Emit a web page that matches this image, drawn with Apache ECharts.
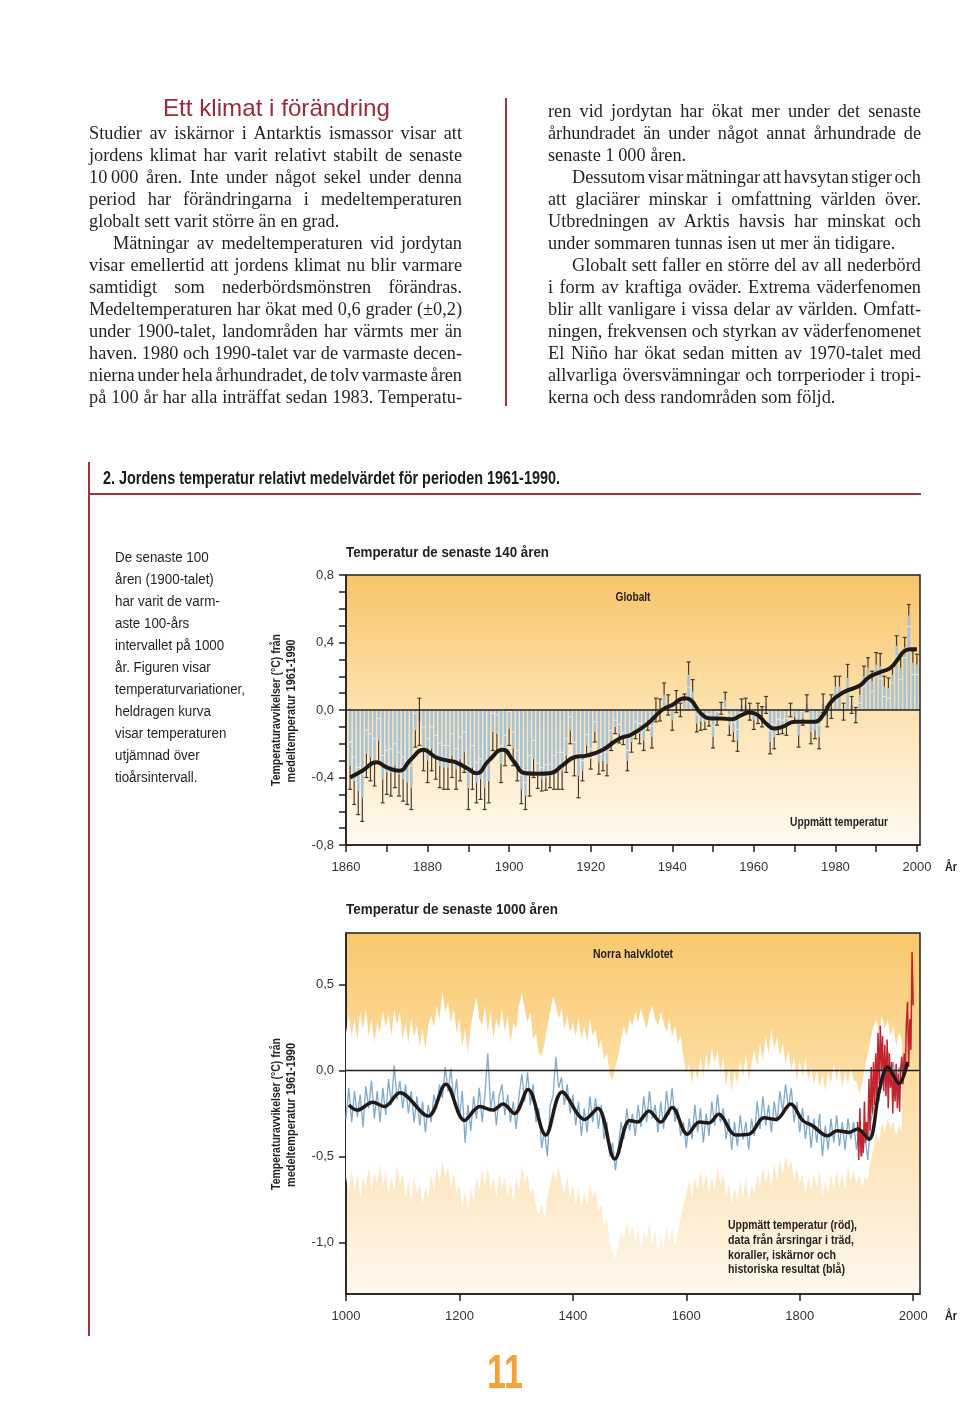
<!DOCTYPE html>
<html><head><meta charset="utf-8">
<script src="https://cdn.jsdelivr.net/npm/echarts@6/dist/echarts.min.js"></script>
<style>
html,body{margin:0;padding:0;background:#fff;}
#page{position:relative;width:960px;height:1426px;overflow:hidden;background:#fff;}
#chart{position:absolute;left:0;top:0;width:960px;height:1426px;}
.txt{position:absolute;white-space:nowrap;z-index:2;}
.rule{position:absolute;background:#a3323d;z-index:2;}
</style></head>
<body><div id="page"><div id="chart"></div></div>
<script>
// ---------------- DATA ----------------
// Chart 1: global annual anomalies 1861-2000 (°C), error half-widths
const years1Start = 1861;
const vals1 = [
 -0.33,-0.42,-0.48,-0.52,-0.26,-0.28,-0.31,-0.18,-0.41,-0.37,
 -0.37,-0.33,-0.38,-0.41,-0.43,-0.46,-0.12,-0.07,-0.23,-0.30,
 -0.23,-0.28,-0.33,-0.34,-0.34,-0.27,-0.35,-0.29,-0.25,-0.46,
 -0.34,-0.43,-0.41,-0.46,-0.42,-0.13,-0.14,-0.32,-0.24,-0.11,
 -0.23,-0.33,-0.47,-0.51,-0.39,-0.29,-0.39,-0.41,-0.40,-0.39,
 -0.37,-0.36,-0.36,-0.27,-0.12,-0.29,-0.39,-0.36,-0.21,-0.29,
 -0.13,-0.31,-0.30,-0.32,-0.18,-0.10,-0.14,-0.17,-0.30,-0.19,
 -0.12,-0.14,-0.18,-0.06,-0.16,0.00,0.00,0.09,0.03,-0.06,
 0.05,0.00,0.05,0.21,0.11,-0.08,-0.07,-0.07,-0.06,-0.16,
 -0.05,0.01,0.06,-0.09,-0.13,-0.18,0.03,0.03,-0.01,-0.06,
 -0.02,-0.04,0.03,-0.19,-0.16,-0.10,-0.10,-0.10,0.00,-0.04,
 -0.15,-0.05,0.04,-0.13,-0.12,-0.16,0.04,-0.04,0.02,0.14,
 0.14,-0.01,0.19,0.03,-0.03,0.09,0.20,0.25,0.17,0.27,
 0.26,0.14,0.13,0.21,0.38,0.25,0.37,0.56,0.28,0.27
];
const errs1 = [
 0.14,0.14,0.14,0.14,0.14,0.14,0.14,0.13,0.14,0.13,
 0.14,0.13,0.13,0.13,0.13,0.13,0.10,0.14,0.13,0.13,
 0.13,0.13,0.13,0.13,0.13,0.13,0.12,0.13,0.12,0.13,
 0.13,0.12,0.12,0.13,0.13,0.11,0.11,0.11,0.09,0.10,
 0.10,0.09,0.085,0.08,0.12,0.11,0.075,0.07,0.075,0.07,
 0.10,0.11,0.11,0.10,0.08,0.10,0.13,0.06,0.065,0.06,
 0.06,0.07,0.06,0.07,0.06,0.04,0.055,0.035,0.06,0.06,
 0.05,0.06,0.06,0.06,0.065,0.07,0.065,0.07,0.06,0.06,
 0.065,0.04,0.045,0.075,0.07,0.05,0.05,0.045,0.035,0.065,
 0.04,0.035,0.045,0.06,0.055,0.065,0.035,0.04,0.05,0.055,
 0.06,0.06,0.05,0.07,0.07,0.045,0.04,0.05,0.04,0.035,
 0.07,0.04,0.05,0.07,0.05,0.07,0.055,0.06,0.07,0.06,
 0.06,0.05,0.08,0.05,0.045,0.05,0.06,0.06,0.06,0.07,
 0.075,0.06,0.06,0.05,0.06,0.07,0.06,0.065,0.07,0.06
];
// smoothed (ten-year) curve, chart 1
const smooth1Years = [1861,1864,1867.5,1870,1873,1876,1879,1882,1885,1887,1890,1892,1895,1898.5,1901,1904,1907,1910,1913,1916,1919,1923,1927,1930,1934,1937.5,1940,1943,1944.5,1947,1949.5,1952,1954.5,1957,1959,1961,1963,1965,1967,1970,1972,1975,1977,1979,1982,1986,1988,1990.5,1993.5,1995,1997,1998.5,2000];
const smooth1Vals  = [-0.40,-0.36,-0.31,-0.34,-0.36,-0.29,-0.235,-0.28,-0.30,-0.31,-0.35,-0.375,-0.30,-0.235,-0.30,-0.375,-0.378,-0.375,-0.33,-0.28,-0.27,-0.235,-0.17,-0.145,-0.08,0.0,0.03,0.07,0.06,-0.02,-0.05,-0.05,-0.055,-0.03,-0.015,-0.03,-0.08,-0.11,-0.10,-0.07,-0.07,-0.07,-0.03,0.05,0.105,0.145,0.19,0.22,0.25,0.29,0.35,0.36,0.36];

// Chart 2: Northern Hemisphere, 1000-1980 in 5-year steps
const recStart = 1000, recStep = 5;
const blueVals = [
 -0.28,-0.10,-0.30,-0.12,-0.27,-0.14,-0.33,-0.09,-0.22,-0.06,
 -0.28,-0.12,-0.30,-0.10,-0.26,-0.05,-0.20,0.03,-0.17,-0.06,
 -0.22,-0.08,-0.25,-0.12,-0.30,-0.15,-0.32,-0.18,-0.36,-0.20,
 -0.30,-0.14,-0.22,-0.08,-0.16,0.02,-0.12,0.01,-0.18,-0.05,
 -0.28,-0.12,-0.42,-0.20,-0.35,-0.15,-0.28,-0.10,-0.30,-0.14,
 0.10,-0.22,-0.12,-0.32,-0.15,-0.08,-0.26,-0.14,-0.30,-0.18,
 -0.34,-0.15,-0.02,-0.18,-0.01,-0.20,-0.08,-0.30,-0.22,-0.45,
 -0.35,-0.50,-0.20,-0.15,0.08,-0.10,-0.04,-0.20,-0.08,-0.25,
 -0.14,-0.32,-0.18,-0.38,-0.22,-0.36,-0.15,-0.30,-0.16,-0.34,
 -0.20,-0.40,-0.30,-0.50,-0.42,-0.58,-0.45,-0.30,-0.40,-0.22,
 -0.35,-0.25,-0.38,-0.20,-0.33,-0.15,-0.30,-0.12,-0.28,-0.20,
 -0.36,-0.18,-0.34,-0.12,-0.26,-0.10,-0.30,-0.22,-0.38,-0.30,
 -0.45,-0.28,-0.40,-0.20,-0.36,-0.22,-0.42,-0.25,-0.38,-0.18,
 -0.32,-0.14,-0.30,-0.22,-0.40,-0.28,-0.46,-0.30,-0.44,-0.26,
 -0.40,-0.30,-0.46,-0.28,-0.38,-0.18,-0.34,-0.15,-0.32,-0.20,
 -0.36,-0.18,-0.30,-0.12,-0.24,-0.08,-0.22,-0.10,-0.30,-0.18,
 -0.36,-0.22,-0.40,-0.26,-0.45,-0.28,-0.42,-0.25,-0.50,-0.32,
 -0.46,-0.28,-0.42,-0.26,-0.44,-0.30,-0.46,-0.28,-0.40,-0.30,
 -0.46,-0.32,-0.50,-0.38,-0.52,-0.30,-0.22,-0.05,-0.18,0.08,
 -0.06,0.12,-0.04,0.05,-0.12,0.02,-0.08
];
const bandUpper = [
 0.22,0.32,0.20,0.30,0.18,0.34,0.24,0.36,0.20,0.30,
 0.16,0.28,0.22,0.35,0.25,0.33,0.20,0.36,0.26,0.34,
 0.18,0.28,0.16,0.30,0.20,0.26,0.14,0.24,0.12,0.26,
 0.32,0.25,0.38,0.30,0.46,0.34,0.40,0.28,0.36,0.22,
 0.30,0.14,0.24,0.10,0.26,0.35,0.43,0.30,0.26,0.38,
 0.22,0.34,0.18,0.30,0.24,0.36,0.22,0.32,0.16,0.28,
 0.24,0.38,0.45,0.36,0.28,0.34,0.18,0.22,0.10,0.08,
 0.16,0.26,0.34,0.43,0.38,0.30,0.36,0.24,0.32,0.22,
 0.28,0.20,0.30,0.18,0.26,0.16,0.30,0.20,0.24,0.12,
 0.18,0.06,0.10,-0.02,-0.06,0.02,0.08,0.18,0.26,0.20,
 0.30,0.26,0.34,0.28,0.36,0.30,0.24,0.33,0.38,0.30,
 0.26,0.34,0.28,0.22,0.30,0.20,0.26,0.16,0.20,0.08,
 -0.02,0.04,-0.08,0.02,-0.06,0.08,-0.04,0.10,0.00,0.14,
 0.04,0.12,-0.02,0.08,-0.10,0.02,-0.12,0.00,-0.08,0.06,
 -0.04,0.10,-0.06,0.04,0.12,0.02,0.16,0.06,0.20,0.10,
 0.24,0.12,0.20,0.08,0.16,0.04,0.12,0.00,0.08,-0.06,
 0.06,-0.04,0.08,-0.06,0.02,-0.08,0.00,-0.10,-0.02,-0.12,
 0.00,-0.08,0.04,-0.06,0.02,-0.10,0.00,-0.08,0.02,-0.06,
 -0.06,-0.14,-0.08,0.02,0.10,0.18,0.26,0.30,0.22,0.32,
 0.24,0.30,0.20,0.26,0.14,0.22,0.18
];
const bandLower = [
 -0.62,-0.72,-0.58,-0.70,-0.60,-0.74,-0.62,-0.68,-0.56,-0.70,
 -0.60,-0.66,-0.54,-0.68,-0.58,-0.72,-0.62,-0.70,-0.55,-0.66,
 -0.60,-0.74,-0.64,-0.76,-0.62,-0.72,-0.66,-0.78,-0.68,-0.74,
 -0.60,-0.70,-0.56,-0.66,-0.52,-0.62,-0.56,-0.68,-0.60,-0.72,
 -0.66,-0.80,-0.70,-0.82,-0.68,-0.76,-0.62,-0.70,-0.58,-0.68,
 -0.56,-0.70,-0.62,-0.74,-0.60,-0.68,-0.62,-0.74,-0.64,-0.76,
 -0.62,-0.70,-0.56,-0.66,-0.60,-0.72,-0.68,-0.80,-0.84,-0.78,
 -0.86,-0.74,-0.66,-0.58,-0.64,-0.56,-0.66,-0.72,-0.62,-0.74,
 -0.66,-0.78,-0.68,-0.80,-0.70,-0.78,-0.66,-0.74,-0.70,-0.82,
 -0.78,-0.90,-0.86,-1.00,-1.05,-1.10,-1.02,-0.94,-0.98,-0.88,
 -0.96,-0.90,-1.00,-0.92,-1.04,-0.94,-0.98,-0.88,-1.02,-0.92,
 -1.06,-0.96,-1.04,-0.90,-1.00,-0.92,-1.02,-0.94,-0.86,-0.78,
 -0.72,-0.64,-0.74,-0.62,-0.70,-0.58,-0.68,-0.60,-0.72,-0.62,
 -0.70,-0.56,-0.66,-0.60,-0.74,-0.66,-0.78,-0.68,-0.76,-0.64,
 -0.74,-0.62,-0.76,-0.66,-0.72,-0.60,-0.68,-0.56,-0.66,-0.58,
 -0.68,-0.54,-0.64,-0.52,-0.60,-0.50,-0.58,-0.52,-0.64,-0.56,
 -0.66,-0.60,-0.72,-0.62,-0.70,-0.60,-0.68,-0.58,-0.74,-0.64,
 -0.72,-0.60,-0.70,-0.58,-0.68,-0.60,-0.70,-0.56,-0.64,-0.58,
 -0.66,-0.60,-0.68,-0.62,-0.64,-0.52,-0.46,-0.36,-0.42,-0.30,
 -0.36,-0.28,-0.34,-0.30,-0.38,-0.32,-0.36
];
// instrumental record (red), 2-year steps
const redStart = 1902, redStep = 2;
const redVals = [
 -0.30,-0.52,-0.22,-0.50,-0.35,-0.48,-0.18,-0.42,-0.30,-0.40,
 -0.05,-0.35,0.02,-0.25,0.05,-0.20,0.10,-0.15,0.22,-0.08,
 0.26,0.00,0.20,-0.12,0.15,-0.15,0.18,-0.22,0.10,-0.10,
 0.05,-0.25,0.00,-0.18,0.04,-0.22,-0.02,-0.24,0.02,0.08,
 -0.08,0.10,-0.02,0.28,0.40,0.02,0.30,0.12,0.69,0.38
];
// 40-year smoothed curve (black), chart 2
const smooth2Years = [1005,1020,1047,1068,1095,1145,1176,1209,1236,1259,1277,1297,1321,1352,1381,1421,1444,1474,1500,1514,1534,1555,1575,1602,1623,1640,1657,1687,1711,1737,1758,1784,1805,1822,1849,1866,1887,1902,1922,1940,1955,1975,1990];
const smooth2Vals  = [-0.20,-0.23,-0.185,-0.21,-0.13,-0.265,-0.08,-0.29,-0.21,-0.23,-0.195,-0.25,-0.11,-0.375,-0.125,-0.285,-0.22,-0.515,-0.29,-0.30,-0.235,-0.30,-0.215,-0.37,-0.30,-0.305,-0.255,-0.375,-0.37,-0.275,-0.285,-0.195,-0.29,-0.32,-0.38,-0.35,-0.36,-0.34,-0.40,-0.12,0.02,-0.075,0.05];

// tick values
const xTicks1 = [1860,1870,1880,1890,1900,1910,1920,1930,1940,1950,1960,1970,1980,1990,2000];
const xLabels1 = [1860,1880,1900,1920,1940,1960,1980,2000];
const yTicks1 = [-0.8,-0.7,-0.6,-0.5,-0.4,-0.3,-0.2,-0.1,0,0.1,0.2,0.3,0.4,0.5,0.6,0.7,0.8];
const yLabels1 = [-0.8,-0.4,0,0.4,0.8];
const xTicks2 = [1000,1200,1400,1600,1800,2000];
const yTicks2 = [-1.0,-0.5,0,0.5];

// ---------------- PAGE TEXT ----------------
const leftLines = [
 ["Studier av iskärnor i Antarktis ismassor visar att",1,0],
 ["jordens klimat har varit relativt stabilt de senaste",1,0],
 ["10\u2009000 åren. Inte under något sekel under denna",1,0],
 ["period har förändringarna i medeltemperaturen",1,0],
 ["globalt sett varit större än en grad.",0,0],
 ["Mätningar av medeltemperaturen vid jordytan",1,24],
 ["visar emellertid att jordens klimat nu blir varmare",1,0],
 ["samtidigt som nederbördsmönstren förändras.",1,0],
 ["Medeltemperaturen har ökat med 0,6 grader (±0,2)",1,0],
 ["under 1900-talet, landområden har värmts mer än",1,0],
 ["haven. 1980 och 1990-talet var de varmaste decen-",1,0],
 ["nierna under hela århundradet, de tolv varmaste åren",1,0],
 ["på 100 år har alla inträffat sedan 1983. Temperatu-",1,0]
];
const rightLines = [
 ["ren vid jordytan har ökat mer under det senaste",1,0],
 ["århundradet än under något annat århundrade de",1,0],
 ["senaste 1\u2009000 åren.",0,0],
 ["Dessutom visar mätningar att havsytan stiger och",1,24],
 ["att glaciärer minskar i omfattning världen över.",1,0],
 ["Utbredningen av Arktis havsis har minskat och",1,0],
 ["under sommaren tunnas isen ut mer än tidigare.",0,0],
 ["Globalt sett faller en större del av all nederbörd",1,24],
 ["i form av kraftiga oväder. Extrema väderfenomen",1,0],
 ["blir allt vanligare i vissa delar av världen. Omfatt-",1,0],
 ["ningen, frekvensen och styrkan av väderfenomenet",1,0],
 ["El Niño har ökat sedan mitten av 1970-talet med",1,0],
 ["allvarliga översvämningar och torrperioder i tropi-",1,0],
 ["kerna och dess randområden som följd.",0,0]
];
const descLines = ["De senaste 100","åren (1900-talet)","har varit de varm-","aste 100-års","intervallet på 1000","år. Figuren visar","temperaturvariationer,","heldragen kurva","visar temperaturen","utjämnad över","tioårsintervall."];

const page = document.getElementById('page');
const SERIF = '18.3px "Liberation Serif","DejaVu Serif",serif';
const SANS = '"Liberation Sans",Arial,sans-serif';
function addText(text,left,cy,font,lh,color){
  const d=document.createElement('div'); d.className='txt'; d.textContent=text;
  d.style.left=left+'px'; d.style.top=(cy-lh/2)+'px';
  d.style.font=font; d.style.lineHeight=lh+'px'; d.style.color=color||'#231f20';
  page.appendChild(d); return d;
}
function fitEl(d,target){ const w=d.getBoundingClientRect().width; d.style.transformOrigin='0 50%'; d.style.transform='scaleX('+(target/w)+')'; }
function column(lines,left,cy0,width){
  lines.forEach((ln,i)=>{
    const d=addText(ln[0],left+ln[2],cy0+22*i,SERIF,22);
    if(ln[1]){ const w=d.getBoundingClientRect().width; const n=(ln[0].match(/ /g)||[]).length; if(n) d.style.wordSpacing=((width-ln[2]-w)/n)+'px'; }
  });
}
function rule(l,t,w,h){ const r=document.createElement('div'); r.className='rule'; Object.assign(r.style,{left:l+'px',top:t+'px',width:w+'px',height:h+'px'}); page.appendChild(r); }

fitEl(addText('Ett klimat i förändring',163,108,'24px '+SANS,28,'#9b2b3a'),227);
column(leftLines,89,133,373);
column(rightLines,548,111,373);
rule(505,98,2,308);
rule(88,462,2,874);
rule(88,493,833,2);
fitEl(addText('2. Jordens temperatur relativt medelvärdet för perioden 1961-1990.',103,478,'bold 19px '+SANS,24,'#1a1a1a'),457);
(function(){
  const els=descLines.map((t,i)=>addText(t,115,557+22*i,'15.5px '+SANS,22,'#231f20'));
  const ref=els[6].getBoundingClientRect().width; const f=130/ref;
  els.forEach(e=>{e.style.transformOrigin='0 50%'; e.style.transform='scaleX('+f+')';});
})();
fitEl(addText('11',487,1372,'bold 48px '+SANS,52,'#f3a23a'),36);

// ---------------- CHART ----------------
const chart = echarts.init(document.getElementById('chart'), null, {renderer:'canvas'});
const mctx = document.createElement('canvas').getContext('2d');
function T(text,x,y,target,size,align,rot){
  const font='bold '+size+'px '+SANS; mctx.font=font;
  const s=target/mctx.measureText(text).width;
  return {type:'text',x:x,y:y,rotation:rot||0,scaleX:s,silent:true,z:20,
    style:{text:text,font:font,fill:'#231f20',textAlign:align||'left',textVerticalAlign:'middle'}};
}
const INK='#231f20';
const fmtY = v => (Math.round(v*10)/10).toFixed(1).replace('.',',');
const tickFont = {color:'#333',fontFamily:'Liberation Sans',fontSize:13};

const bars1 = vals1.map((v,i)=>[years1Start+i, v, errs1[i]]);
const smooth1 = smooth1Years.map((y,i)=>[y,smooth1Vals[i]]);
const blue2 = blueVals.map((v,i)=>[recStart+recStep*i, v]);
const nb = Math.min(bandUpper.length,bandLower.length);
const band2 = bandUpper.slice(0,nb).map((v,i)=>[recStart+recStep*i, bandLower[i], v]);
const red2 = redVals.map((v,i)=>[redStart+redStep*i, v]);
const smooth2 = smooth2Years.map((y,i)=>[y,smooth2Vals[i]]);

function axisX(gi,min,max,ticks,labels){
  return {gridIndex:gi,type:'value',min:min,max:max,
    axisLine:{show:true,onZero:false,lineStyle:{color:INK,width:1.5}},
    axisTick:{show:true,inside:false,length:7,customValues:ticks,lineStyle:{color:INK,width:1.5}},
    axisLabel:Object.assign({show:true,margin:16,customValues:labels,formatter:v=>String(Math.round(v))},tickFont),
    splitLine:{show:false}};
}
function axisY(gi,min,max,ticks,labels){
  return {gridIndex:gi,type:'value',min:min,max:max,
    axisLine:{show:true,onZero:false,lineStyle:{color:INK,width:1.5}},
    axisTick:{show:true,inside:false,length:7,customValues:ticks,lineStyle:{color:INK,width:1.5}},
    axisLabel:Object.assign({show:true,margin:12,customValues:labels,formatter:fmtY},tickFont),
    splitLine:{show:false}};
}
const grad1 = new echarts.graphic.LinearGradient(0,0,0,1,[{offset:0,color:'#f8c468'},{offset:0.5,color:'#fde2b0'},{offset:1,color:'#fffaf2'}]);
const grad2 = new echarts.graphic.LinearGradient(0,0,0,1,[{offset:0,color:'#f9c86d'},{offset:0.38,color:'#fcdca0'},{offset:0.75,color:'#fdebcc'},{offset:1,color:'#fff8ee'}]);

const option = {
  animation:false,
  backgroundColor:'transparent',
  grid:[
    {left:346,top:575,width:574,height:270,show:true,backgroundColor:grad1,borderColor:INK,borderWidth:1.5,containLabel:false,outerBoundsMode:'none'},
    {left:346,top:933,width:574,height:361,show:true,backgroundColor:grad2,borderColor:INK,borderWidth:1.5,containLabel:false,outerBoundsMode:'none'}
  ],
  xAxis:[ axisX(0,1860,2000.75,xTicks1,xLabels1), axisX(1,1000,2012,xTicks2,xTicks2) ],
  yAxis:[ axisY(0,-0.8,0.8,yTicks1,yLabels1), axisY(1,-1.3,0.8,yTicks2,yTicks2) ],
  series:[
    {type:'custom',xAxisIndex:0,yAxisIndex:0,z:2,silent:true,data:bars1,
      renderItem:function(params,api){
        const yr=api.value(0), v=api.value(1), e=api.value(2);
        const p0=api.coord([yr,0]), pv=api.coord([yr,v]);
        const outer = v<0 ? v-e : v+e, inner = v<0 ? v+e : v-e;
        const po=api.coord([yr,outer]), pi=api.coord([yr,inner]);
        const x=p0[0];
        const ch=[
          {type:'rect',shape:{x:x-1.3,y:Math.min(p0[1],pv[1]),width:2.6,height:Math.abs(p0[1]-pv[1])},style:{fill:'#a6c3d6'}},
          {type:'line',shape:{x1:x,y1:pv[1],x2:x,y2:po[1]},style:{stroke:'#4a3a2a',lineWidth:1.2}},
          {type:'line',shape:{x1:x-2,y1:po[1],x2:x+2,y2:po[1]},style:{stroke:'#4a3a2a',lineWidth:1.2}}
        ];
        const crosses = (v<0 && inner>0) || (v>0 && inner<0) || v===0;
        if(crosses){
          ch.push({type:'line',shape:{x1:x,y1:pv[1],x2:x,y2:pi[1]},style:{stroke:'#4a3a2a',lineWidth:1.2}});
          ch.push({type:'line',shape:{x1:x-2,y1:pi[1],x2:x+2,y2:pi[1]},style:{stroke:'#4a3a2a',lineWidth:1.2}});
        } else {
          ch.push({type:'line',shape:{x1:x-1.8,y1:pi[1],x2:x+1.8,y2:pi[1]},style:{stroke:'#f1ebdd',lineWidth:1}});
        }
        return {type:'group',children:ch};
      }},
    {type:'line',xAxisIndex:0,yAxisIndex:0,z:5,data:smooth1,smooth:0.5,showSymbol:false,symbol:'none',silent:true,
      lineStyle:{color:'#1f1a17',width:4},
      markLine:{silent:true,symbol:['none','none'],label:{show:false},lineStyle:{color:INK,width:1.5,type:'solid'},data:[{yAxis:0}]}},
    {type:'custom',xAxisIndex:1,yAxisIndex:1,z:1,silent:true,data:[band2[0]],
      renderItem:function(params,api){
        if(params.dataIndex!==0) return;
        const pts=[];
        for(let i=0;i<band2.length;i++) pts.push(api.coord([band2[i][0],band2[i][2]]));
        for(let i=band2.length-1;i>=0;i--) pts.push(api.coord([band2[i][0],band2[i][1]]));
        return {type:'polygon',shape:{points:pts},style:{fill:'#ffffff'}};
      }},
    {type:'line',xAxisIndex:1,yAxisIndex:1,z:3,data:blue2,showSymbol:false,symbol:'none',silent:true,lineStyle:{color:'#7eaacd',width:1.3},
      markLine:{silent:true,symbol:['none','none'],label:{show:false},lineStyle:{color:INK,width:1.3,type:'solid'},data:[{yAxis:0}]}},
    {type:'line',xAxisIndex:1,yAxisIndex:1,z:4,data:red2,showSymbol:false,symbol:'none',silent:true,lineStyle:{color:'#c4232d',width:1.5}},
    {type:'line',xAxisIndex:1,yAxisIndex:1,z:5,data:smooth2,smooth:0.35,showSymbol:false,symbol:'none',silent:true,lineStyle:{color:'#1f1a17',width:3.5}}
  ],
  graphic:[
    T('Temperatur de senaste 140 åren',346,553,203,15),
    T('Temperatur de senaste 1000 åren',346,910,212,15),
    T('Globalt',633,598,35,12,'center'),
    T('Uppmätt temperatur',790,823,98,12.5),
    T('Norra halvklotet',633,955,80,12,'center'),
    T('Uppmätt temperatur (röd),',728,1226,129,12.5),
    T('data från årsringar i träd,',728,1241,126,12.5),
    T('koraller, iskärnor och',728,1256,108,12.5),
    T('historiska resultat (blå)',728,1270,117,12.5),
    T('År',951,867,12,13,'center'),
    T('År',951,1316,12,13,'center'),
    T('Temperaturavvikelser (°C) från',277,710,152,12.5,'center',Math.PI/2),
    T('medeltemperatur 1961-1990',292,711,143,12.5,'center',Math.PI/2),
    T('Temperaturavvikelser (°C) från',277,1114,152,12.5,'center',Math.PI/2),
    T('medeltemperatur 1961-1990',292,1115,144,12.5,'center',Math.PI/2)
  ]
};
chart.setOption(option);
</script>
</body></html>
